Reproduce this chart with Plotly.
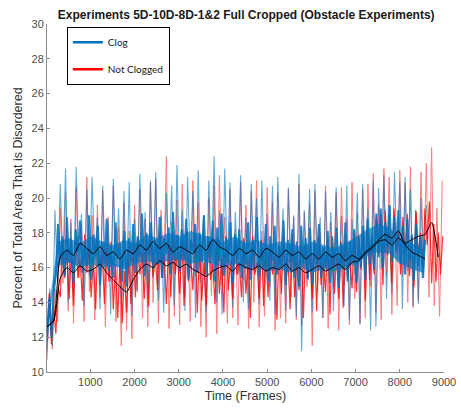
import plotly.graph_objects as go

# ---- data ----
FRAME_START = 20
CORE_STEP = 50
SPIKE_STEP = 60
MEAN_STEP = 150
BAND_STEP = 250

blue_core = [
    11.8, 14.2, 12.0, 14.5, 15.6, 18.5, 16.4, 17.8, 15.5, 18.9,
    16.3, 17.6, 15.1, 18.2, 16.9, 18.7, 15.7, 17.3, 16.1, 19.0,
    15.3, 17.9, 16.6, 18.4, 15.0, 17.5, 16.2, 18.8, 15.8, 17.2,
    15.4, 18.6, 16.5, 17.4, 15.2, 18.1, 14.9, 17.7, 16.3, 18.5,
    15.7, 17.8, 16.6, 19.1, 15.5, 18.0, 16.7, 18.6, 15.9, 17.6,
    16.2, 18.9, 15.4, 17.7, 16.8, 18.3, 15.6, 19.2, 16.4, 17.9,
    15.8, 18.2, 16.5, 18.8, 15.3, 17.6, 16.9, 18.5, 15.7, 18.0,
    16.3, 19.0, 15.6, 17.8, 16.6, 18.7, 15.2, 18.3, 16.4, 19.1,
    15.5, 17.7, 16.3, 18.6, 15.1, 17.9, 16.5, 18.2, 15.4, 17.5,
    16.2, 18.6, 15.3, 17.6, 16.7, 18.9, 15.5, 17.4, 16.0, 18.5,
    15.2, 17.8, 16.4, 18.4, 15.6, 17.3, 16.1, 18.7, 15.0, 17.6,
    16.3, 18.2, 15.4, 17.5, 14.9, 18.4, 16.2, 17.7, 15.3, 18.3,
    15.0, 17.6, 16.2, 18.5, 15.4, 17.2, 16.0, 18.1, 15.1, 17.8,
    16.1, 18.3, 14.8, 17.4, 15.9, 18.6, 15.2, 17.5, 16.3, 18.2,
    15.1, 17.7, 16.0, 18.4, 15.3, 18.8, 16.2, 18.0, 15.9, 19.1,
    16.6, 19.4, 16.0, 18.6, 17.2, 19.6, 16.3, 18.9, 17.0, 19.3,
    16.2, 18.4, 15.6, 18.8, 16.4, 17.9, 15.3, 18.5, 16.1, 17.8,
    15.4, 17.6,
]

blue_spikes = [
    11.2, 14.8, 11.5, 19.3, 15.2, 20.8, 16.0, 21.7, 14.0, 18.6,
    14.3, 21.8, 16.2, 19.1, 13.8, 20.5, 15.5, 21.2, 16.4, 18.9,
    13.6, 20.7, 15.8, 18.7, 13.3, 21.1, 16.1, 19.4, 13.9, 20.4,
    15.0, 20.9, 13.2, 18.8, 14.6, 21.4, 16.3, 19.2, 13.7, 21.0,
    15.4, 21.5, 14.1, 19.0, 13.4, 20.3, 16.0, 20.7, 13.8, 21.9,
    15.7, 19.3, 13.5, 21.2, 16.2, 20.4, 13.1, 21.6, 15.1, 19.0,
    13.4, 21.0, 15.9, 22.4, 14.0, 19.3, 13.3, 21.7, 16.1, 20.9,
    13.7, 19.2, 15.6, 21.3, 14.0, 18.9, 13.6, 20.8, 15.8, 20.0,
    13.9, 21.0, 15.2, 19.1, 14.1, 20.7, 13.3, 21.2, 16.0, 19.4,
    13.5, 20.6, 15.7, 19.0, 13.2, 21.4, 11.2, 19.3, 15.4, 20.5,
    13.4, 20.8, 15.9, 18.9, 13.1, 20.4, 16.0, 19.2, 13.5, 20.6,
    15.2, 19.0, 13.8, 20.7, 13.0, 18.8, 15.6, 20.3, 12.7, 20.8,
    15.5, 19.4, 12.4, 21.0, 12.6, 20.6, 15.9, 21.3, 14.2, 19.6,
    14.5, 21.5, 16.3, 20.9, 13.6, 21.2, 15.8, 20.5, 13.8, 19.3,
    13.9, 20.0, 15.4, 19.6,
]

red_core = [
    12.0, 14.5, 11.6, 13.8, 12.2, 14.9, 14.3, 17.6, 15.4, 17.0,
    14.2, 16.8, 13.8, 17.8, 15.4, 16.5, 14.1, 17.9, 15.7, 17.2,
    14.3, 16.6, 13.6, 17.4, 15.6, 16.8, 13.9, 17.1, 15.2, 17.5,
    13.6, 16.2, 13.1, 16.5, 12.8, 15.8, 13.4, 16.6, 13.9, 17.3,
    14.3, 17.7, 15.6, 16.9, 14.2, 17.4, 13.8, 18.0, 15.5, 16.6,
    14.7, 18.1, 15.4, 16.8, 13.9, 17.2, 14.3, 17.7, 15.6, 16.9,
    14.5, 17.6, 13.8, 18.1, 15.2, 16.5, 14.7, 17.9, 13.4, 17.4,
    14.1, 16.3, 13.8, 17.6, 15.3, 16.2, 13.9, 17.7, 14.5, 16.5,
    13.4, 17.8, 14.7, 16.4, 14.2, 17.9, 15.6, 16.3, 14.3, 17.7,
    14.5, 16.5, 13.1, 17.8, 15.6, 16.3, 14.2, 17.6, 13.8, 16.9,
    14.3, 17.4, 15.6, 16.7, 13.0, 17.2, 14.5, 17.8, 15.2, 16.5,
    13.6, 17.9, 14.3, 16.4, 14.7, 17.6, 13.1, 17.3, 15.4, 16.7,
    14.2, 17.5, 13.5, 17.8, 15.0, 16.3, 14.6, 17.6, 13.3, 17.4,
    14.5, 16.7, 14.2, 17.5, 13.7, 17.9, 15.4, 16.6, 14.8, 18.0,
    14.6, 17.8, 15.9, 18.2, 14.1, 18.4, 15.3, 17.6, 15.6, 18.9,
    16.8, 19.1, 15.0, 19.3, 16.7, 18.0, 15.1, 19.4, 16.9, 18.2,
    15.6, 18.9, 16.8, 19.1, 15.5, 17.8, 14.9, 19.2, 16.7, 18.0,
    16.0, 19.4, 17.3, 19.8, 15.1, 18.5, 15.2, 18.0, 15.6, 17.8,
]

red_spikes = [
    10.7, 14.6, 11.3, 14.8, 12.9, 19.4, 15.1, 20.3, 13.5, 18.8,
    12.8, 20.6, 15.4, 18.5, 12.9, 21.2, 14.6, 19.0, 13.0, 19.6,
    14.3, 20.4, 12.6, 18.9, 15.2, 20.7, 12.9, 18.3, 11.5, 19.7,
    12.4, 18.1, 11.9, 19.6, 14.7, 20.5, 13.1, 18.8, 12.6, 20.9,
    14.0, 21.1, 12.8, 19.3, 15.4, 22.4, 12.5, 18.6, 13.2, 19.9,
    12.7, 20.8, 14.3, 18.2, 12.9, 21.0, 15.5, 19.7, 12.6, 18.4,
    12.0, 20.0, 14.4, 20.7, 12.2, 21.3, 15.0, 18.9, 12.8, 20.5,
    13.1, 18.2, 12.7, 20.9, 15.3, 19.6, 12.5, 20.4, 14.0, 21.0,
    12.6, 18.1, 13.2, 20.6, 14.9, 19.8, 12.4, 20.3, 13.1, 18.0,
    12.8, 20.5, 14.3, 18.9, 13.0, 20.8, 12.7, 19.2, 14.9, 19.7,
    11.5, 20.4, 14.6, 18.0, 13.1, 20.7, 12.5, 18.6, 14.9, 20.3,
    12.4, 20.6, 15.0, 18.8, 12.7, 20.9, 14.2, 19.1, 12.8, 20.5,
    13.1, 20.8, 14.9, 21.4, 13.4, 19.6, 13.0, 21.7, 15.6, 21.2,
    13.3, 19.0, 13.8, 21.6, 15.5, 20.9, 14.0, 21.8, 13.7, 19.3,
    14.1, 21.5, 15.9, 22.0, 14.3, 22.9, 13.8, 19.4, 13.2, 21.0,
]

blue_band_low = [
    12.4, 16.1, 16.3, 16.0, 16.2, 16.0, 16.1, 15.9, 16.2, 16.4,
    16.2, 16.4, 16.5, 16.2, 16.4, 16.2, 16.0, 16.2, 15.9, 16.0,
    15.8, 15.9, 15.7, 16.0, 15.7, 15.9, 15.8, 16.0, 16.2, 16.7,
    16.9, 16.8, 16.2, 15.9, 15.7,
]
blue_band_high = [
    13.0, 17.5, 17.7, 17.4, 17.8, 17.5, 17.3, 17.6, 17.4, 17.9,
    17.7, 18.0, 17.8, 18.1, 17.9, 17.7, 17.5, 17.8, 17.4, 17.6,
    17.3, 17.5, 17.4, 17.2, 17.5, 17.3, 17.1, 17.4, 17.8, 18.2,
    18.5, 18.3, 17.6, 17.4, 17.1,
]

blue_mean = [
    12.6, 13.0, 16.6, 17.0, 16.7, 17.4, 17.1, 16.8, 17.2, 16.7,
    16.9, 16.5, 17.0, 16.8, 17.3, 17.0, 17.5, 17.1, 17.4, 16.9,
    17.2, 17.0, 16.8, 17.3, 17.0, 17.6, 17.2, 17.0, 16.7, 17.1,
    16.8, 17.0, 16.6, 17.1, 16.9, 16.6, 17.0, 16.7, 16.9, 16.5,
    16.8, 16.5, 16.9, 16.6, 16.8, 16.4, 16.7, 16.5, 16.9, 17.2,
    17.6, 17.9, 17.7, 18.1, 17.3, 16.9, 16.7, 16.5,
]

red_mean = [
    12.6, 12.9, 15.4, 16.0, 15.7, 16.1, 15.8, 15.9, 16.2, 15.7,
    15.3, 14.9, 14.6, 15.3, 15.9, 16.2, 16.0, 16.4, 16.1, 16.3,
    16.0, 16.2, 15.9, 15.7, 15.5, 15.8, 16.0, 16.1, 15.8, 16.2,
    16.0, 15.9, 16.1, 15.8, 16.0, 15.9, 16.2, 15.8, 16.0, 15.7,
    15.9, 16.1, 15.8, 16.0, 16.2, 15.9, 16.3, 16.4, 16.8, 17.1,
    17.5, 17.6, 17.3, 17.7, 17.4, 17.6, 17.8, 17.9, 18.6, 16.6,
]

x_ticks = [1000, 2000, 3000, 4000, 5000, 6000, 7000, 8000, 9000]
y_ticks = [10, 12, 14, 16, 18, 20, 22, 24, 26, 28, 30]


def frames(values, step):
    return [FRAME_START + i * step for i in range(len(values))]


BLUE = "#0072BD"
RED = "#FF0000"
FONT = "Liberation Sans, Arial, sans-serif"

fig = go.Figure()


def band(low, high, color):
    xs = frames(low, BAND_STEP)
    fig.add_trace(go.Scatter(x=xs, y=low, mode="lines", line=dict(width=0),
                             showlegend=False, hoverinfo="skip"))
    fig.add_trace(go.Scatter(x=xs, y=high, mode="lines", line=dict(width=0),
                             fill="tonexty", fillcolor=color,
                             showlegend=False, hoverinfo="skip"))


def zig(values, step, color, width, opacity):
    fig.add_trace(go.Scatter(x=frames(values, step), y=values, mode="lines",
                             line=dict(color=color, width=width), opacity=opacity,
                             showlegend=False))


zig(red_spikes, SPIKE_STEP, RED, 1, 0.5)
zig(blue_spikes, SPIKE_STEP, BLUE, 1.1, 0.6)
zig(red_core, CORE_STEP, RED, 1.2, 0.8)
band(blue_band_low, blue_band_high, "rgba(0,114,189,0.65)")
zig(blue_core, CORE_STEP, BLUE, 2.0, 0.85)

fig.add_trace(go.Scatter(x=frames(red_mean, MEAN_STEP), y=red_mean, mode="lines",
                         line=dict(color="black", width=1, shape="spline", smoothing=0.6),
                         showlegend=False))
fig.add_trace(go.Scatter(x=frames(blue_mean, MEAN_STEP), y=blue_mean, mode="lines",
                         line=dict(color="black", width=1, shape="spline", smoothing=0.6),
                         showlegend=False))

# legend entries
fig.add_trace(go.Scatter(x=[None], y=[None], mode="lines", name="Clog",
                         line=dict(color=BLUE, width=2.5), legendgroup="a"))
fig.add_trace(go.Scatter(x=[None], y=[None], mode="lines", name="Not Clogged",
                         line=dict(color=RED, width=2.5), legendgroup="b"))

axis_font = dict(family=FONT, size=11, color="#4d4d4d")

fig.update_layout(
    width=461, height=408,
    margin=dict(l=47, r=17, t=24, b=36),
    paper_bgcolor="white", plot_bgcolor="white",
    title=dict(text="<b>Experiments 5D-10D-8D-1&2 Full Cropped (Obstacle Experiments)</b>",
               x=0.534, xanchor="center", y=0.963, yanchor="middle",
               font=dict(family=FONT, size=12, color="#1a1a1a")),
    showlegend=True,
    legend=dict(x=0.05, y=0.992, xanchor="left", yanchor="top",
                bordercolor="black", borderwidth=1, bgcolor="white",
                font=dict(family="Lato, sans-serif", size=10, color="#1a1a1a"),
                tracegroupgap=8, itemwidth=30),
    xaxis=dict(range=[FRAME_START, 9000], tickvals=x_ticks, ticks="inside", ticklen=3,
               showline=True, linecolor="#8c8c8c", linewidth=1, tickcolor="#8c8c8c",
               showgrid=False, zeroline=False, tickfont=axis_font, automargin=False,
               title=dict(text="Time (Frames)", font=dict(family=FONT, size=12.5, color="#333333"), standoff=4)),
    yaxis=dict(range=[10, 30], tickvals=y_ticks, ticks="inside", ticklen=3,
               showline=True, linecolor="#8c8c8c", linewidth=1, tickcolor="#8c8c8c",
               showgrid=False, zeroline=False, tickfont=axis_font, automargin=False,
               title=dict(text="Percent of Total Area That is Disordered", font=dict(family=FONT, size=12.5, color="#333333"), standoff=6)),
)

fig.write_html("out.html")
